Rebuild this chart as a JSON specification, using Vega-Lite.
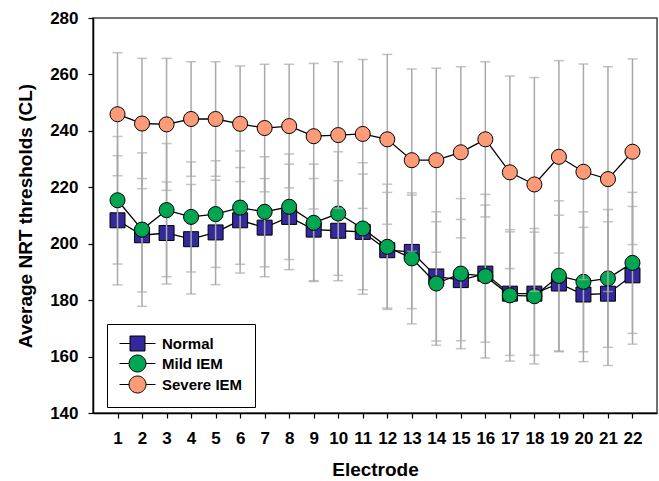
{
  "$schema": "https://vega.github.io/schema/vega-lite/v6.json",
  "width": 564,
  "height": 395,
  "autosize": "none",
  "padding": {"left": 93, "top": 18, "right": 2, "bottom": 68},
  "background": "white",
  "config": {
    "view": {"stroke": "#444444", "strokeWidth": 1.5},
    "font": "Liberation Sans",
    "axis": {
      "grid": false,
      "domainColor": "black",
      "domainWidth": 1.5,
      "tickColor": "black",
      "tickWidth": 1.2,
      "tickSize": 5,
      "labelFont": "Liberation Sans",
      "labelFontWeight": "bold",
      "labelFontSize": 17,
      "labelColor": "black",
      "titleFont": "Liberation Sans",
      "titleFontWeight": "bold",
      "titleFontSize": 19,
      "titleColor": "black"
    }
  },
  "data": {
    "values": [
      {"e":1,"s":"Normal","m":208.3,"sd":22.9},{"e":1,"s":"Mild IEM","m":215.4,"sd":22.6},{"e":1,"s":"Severe IEM","m":245.9,"sd":21.8},
      {"e":2,"s":"Normal","m":203.0,"sd":20.1},{"e":2,"s":"Mild IEM","m":205.0,"sd":27.2},{"e":2,"s":"Severe IEM","m":242.6,"sd":23.1},
      {"e":3,"s":"Normal","m":203.8,"sd":18.1},{"e":3,"s":"Mild IEM","m":211.9,"sd":23.6},{"e":3,"s":"Severe IEM","m":242.3,"sd":23.4},
      {"e":4,"s":"Normal","m":201.6,"sd":19.4},{"e":4,"s":"Mild IEM","m":209.5,"sd":19.5},{"e":4,"s":"Severe IEM","m":244.2,"sd":20.3},
      {"e":5,"s":"Normal","m":204.0,"sd":18.5},{"e":5,"s":"Mild IEM","m":210.5,"sd":18.9},{"e":5,"s":"Severe IEM","m":244.2,"sd":20.3},
      {"e":6,"s":"Normal","m":208.3,"sd":18.7},{"e":6,"s":"Mild IEM","m":212.8,"sd":20.1},{"e":6,"s":"Severe IEM","m":242.5,"sd":20.5},
      {"e":7,"s":"Normal","m":205.7,"sd":17.4},{"e":7,"s":"Mild IEM","m":211.3,"sd":19.5},{"e":7,"s":"Severe IEM","m":241.0,"sd":22.6},
      {"e":8,"s":"Normal","m":209.5,"sd":18.7},{"e":8,"s":"Mild IEM","m":213.1,"sd":18.7},{"e":8,"s":"Severe IEM","m":241.7,"sd":21.9},
      {"e":9,"s":"Normal","m":205.0,"sd":18.1},{"e":9,"s":"Mild IEM","m":207.4,"sd":20.8},{"e":9,"s":"Severe IEM","m":238.1,"sd":25.8},
      {"e":10,"s":"Normal","m":204.6,"sd":17.7},{"e":10,"s":"Mild IEM","m":210.7,"sd":21.9},{"e":10,"s":"Severe IEM","m":238.5,"sd":26.0},
      {"e":11,"s":"Normal","m":204.2,"sd":20.5},{"e":11,"s":"Mild IEM","m":205.4,"sd":23.3},{"e":11,"s":"Severe IEM","m":238.9,"sd":26.4},
      {"e":12,"s":"Normal","m":197.7,"sd":20.5},{"e":12,"s":"Mild IEM","m":198.9,"sd":22.2},{"e":12,"s":"Severe IEM","m":237.0,"sd":30.1},
      {"e":13,"s":"Normal","m":197.1,"sd":20.1},{"e":13,"s":"Mild IEM","m":194.8,"sd":23.2},{"e":13,"s":"Severe IEM","m":229.6,"sd":32.3},
      {"e":14,"s":"Normal","m":188.4,"sd":22.9},{"e":14,"s":"Mild IEM","m":185.9,"sd":21.9},{"e":14,"s":"Severe IEM","m":229.6,"sd":32.6},
      {"e":15,"s":"Normal","m":187.1,"sd":21.5},{"e":15,"s":"Mild IEM","m":189.4,"sd":26.6},{"e":15,"s":"Severe IEM","m":232.4,"sd":30.3},
      {"e":16,"s":"Normal","m":189.4,"sd":24.3},{"e":16,"s":"Mild IEM","m":188.5,"sd":29.0},{"e":16,"s":"Severe IEM","m":237.0,"sd":27.5},
      {"e":17,"s":"Normal","m":182.3,"sd":21.9},{"e":17,"s":"Mild IEM","m":181.7,"sd":23.3},{"e":17,"s":"Severe IEM","m":225.3,"sd":34.1},
      {"e":18,"s":"Normal","m":182.3,"sd":21.8},{"e":18,"s":"Mild IEM","m":181.4,"sd":24.0},{"e":18,"s":"Severe IEM","m":221.0,"sd":37.9},
      {"e":19,"s":"Normal","m":185.9,"sd":24.2},{"e":19,"s":"Mild IEM","m":188.6,"sd":26.6},{"e":19,"s":"Severe IEM","m":230.8,"sd":34.1},
      {"e":20,"s":"Normal","m":182.0,"sd":23.8},{"e":20,"s":"Mild IEM","m":186.5,"sd":24.8},{"e":20,"s":"Severe IEM","m":225.5,"sd":38.2},
      {"e":21,"s":"Normal","m":182.3,"sd":25.5},{"e":21,"s":"Mild IEM","m":187.7,"sd":24.4},{"e":21,"s":"Severe IEM","m":222.9,"sd":39.8},
      {"e":22,"s":"Normal","m":188.8,"sd":24.4},{"e":22,"s":"Mild IEM","m":193.2,"sd":25.0},{"e":22,"s":"Severe IEM","m":232.6,"sd":32.9}
    ]
  },
  "encoding": {
    "x": {
      "field": "e", "type": "quantitative",
      "scale": {"domain": [0, 23], "nice": false, "zero": false},
      "axis": {"values": [1,2,3,4,5,6,7,8,9,10,11,12,13,14,15,16,17,18,19,20,21,22], "title": "Electrode", "labelPadding": 12, "titlePadding": 14, "labelFlush": false, "labelOverlap": false}
    },
    "y": {
      "field": "m", "type": "quantitative",
      "scale": {"domain": [140, 280], "nice": false, "zero": false},
      "axis": {"values": [140,160,180,200,220,240,260,280], "title": "Average NRT thresholds (CL)", "labelPadding": 10, "titlePadding": 14, "labelFlush": false}
    }
  },
  "layer": [
    {
      "mark": {"type": "point", "filled": true, "opacity": 1, "size": 1, "stroke": "black", "strokeWidth": 0},
      "encoding": {
        "fill": {
          "field": "s", "type": "nominal",
          "scale": {"domain": ["Normal", "Mild IEM", "Severe IEM"], "range": ["#34299b", "#00a651", "#fd9b78"]},
          "legend": {
            "title": null,
            "orient": "none",
            "legendX": 14,
            "legendY": 306,
            "padding": 12,
            "strokeColor": "black",
            "fillColor": "white",
            "symbolSize": 100,
            "symbolOpacity": 1,
            "symbolStrokeColor": "black",
            "symbolStrokeWidth": 1,
            "symbolOffset": 11,
            "labelOffset": 17,
            "rowPadding": 0,
            "labelFont": "Liberation Sans",
            "labelFontWeight": "bold",
            "labelFontSize": 15,
            "labelColor": "black"
          }
        },
        "shape": {
          "field": "s", "type": "nominal",
          "scale": {
            "domain": ["Normal", "Mild IEM", "Severe IEM"],
            "range": [
              "M-3.6,0H-1.5M1.5,0H3.6M-1.5,-1.5H1.5V1.5H-1.5Z",
              "M-3.6,0H-1.7M1.7,0H3.6M-1.7,0A1.7,1.7,0,1,1,1.7,0A1.7,1.7,0,1,1,-1.7,0Z",
              "M-3.6,0H-1.7M1.7,0H3.6M-1.7,0A1.7,1.7,0,1,1,1.7,0A1.7,1.7,0,1,1,-1.7,0Z"
            ]
          }
        }
      }
    },
    {
      "transform": [{"filter": "datum.s === 'Normal'"}],
      "mark": {"type": "errorbar", "color": "#a9a9a9", "thickness": 1.5, "ticks": {"size": 10, "thickness": 1.5, "color": "#a9a9a9"}},
      "encoding": {"yError": {"field": "sd"}}
    },
    {
      "transform": [{"filter": "datum.s === 'Normal'"}],
      "mark": {"type": "line", "color": "black", "strokeWidth": 1.3}
    },
    {
      "transform": [{"filter": "datum.s === 'Normal'"}],
      "mark": {"type": "point", "shape": "square", "size": 225, "filled": true, "fill": "#34299b", "stroke": "black", "strokeWidth": 1, "opacity": 1}
    },
    {
      "transform": [{"filter": "datum.s === 'Mild IEM'"}],
      "mark": {"type": "errorbar", "color": "#a9a9a9", "thickness": 1.5, "ticks": {"size": 10, "thickness": 1.5, "color": "#a9a9a9"}},
      "encoding": {"yError": {"field": "sd"}}
    },
    {
      "transform": [{"filter": "datum.s === 'Mild IEM'"}],
      "mark": {"type": "line", "color": "black", "strokeWidth": 1.3}
    },
    {
      "transform": [{"filter": "datum.s === 'Mild IEM'"}],
      "mark": {"type": "point", "shape": "circle", "size": 227, "filled": true, "fill": "#00a651", "stroke": "black", "strokeWidth": 1, "opacity": 1}
    },
    {
      "transform": [{"filter": "datum.s === 'Severe IEM'"}],
      "mark": {"type": "errorbar", "color": "#a9a9a9", "thickness": 1.5, "ticks": {"size": 10, "thickness": 1.5, "color": "#a9a9a9"}},
      "encoding": {"yError": {"field": "sd"}}
    },
    {
      "transform": [{"filter": "datum.s === 'Severe IEM'"}],
      "mark": {"type": "line", "color": "black", "strokeWidth": 1.3}
    },
    {
      "transform": [{"filter": "datum.s === 'Severe IEM'"}],
      "mark": {"type": "point", "shape": "circle", "size": 227, "filled": true, "fill": "#fd9b78", "stroke": "black", "strokeWidth": 1, "opacity": 1}
    }
  ]
}
